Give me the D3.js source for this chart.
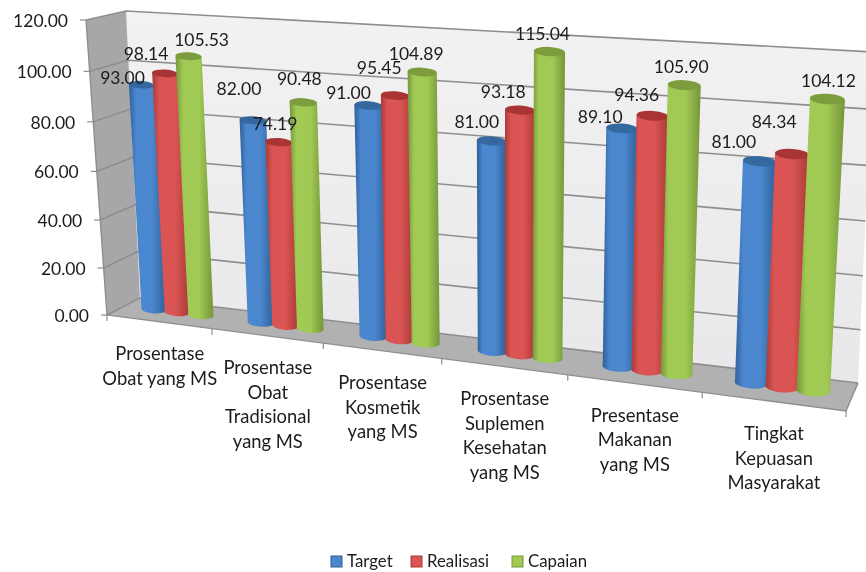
<!DOCTYPE html>
<html>
<head>
<meta charset="utf-8">
<script src="https://cdn.jsdelivr.net/npm/d3@7"></script>
<style>
  html, body { margin: 0; padding: 0; background: #fff; }
  svg { filter: blur(0.45px); }
  text { font-family: Lato, "Open Sans", sans-serif; fill: #1c1c1c; }
</style>
</head>
<body>
<svg id="chart" width="866" height="572"></svg>
<script>
let categories = [
    ["Prosentase", "Obat yang MS"],
    ["Prosentase", "Obat", "Tradisional", "yang MS"],
    ["Prosentase", "Kosmetik", "yang MS"],
    ["Prosentase", "Suplemen", "Kesehatan", "yang MS"],
    ["Presentase", "Makanan", "yang MS"],
    ["Tingkat", "Kepuasan", "Masyarakat"]
];
let seriesNames = ["Target", "Realisasi", "Capaian"];
let target = [93.00, 82.00, 91.00, 81.00, 89.10, 81.00];
let realisasi = [98.14, 74.19, 95.45, 93.18, 94.36, 84.34];
let capaian = [105.53, 90.48, 104.89, 115.04, 105.90, 104.12];
let yTicks = [0, 20, 40, 60, 80, 100, 120];

// where each data label sits relative to its bar top
let labelDx = [
    [-19, -14, -20, -15, -22, -26],
    [-19, -4, -16, -17, -16, -18],
    [13, -4, -6, -7, -3, 1]
];
let labelDy = [
    [-9, -34, -15, -21, -14, -22],
    [-22, -21, -30, -21, -23, -35],
    [-19, -26, -21, -20, -21, -20]
];

let fills = [
    { edge: "#2f5f98", mid: "#4b87ce", cap: "#35689f" },
    { edge: "#a93a38", mid: "#d95452", cap: "#a83533" },
    { edge: "#76953a", mid: "#a0ca54", cap: "#7c9c3e" }
];

// corners of the box as they land on the picture: back wall and front plane
let backWall = quad([140, 298], [858, 383], [873, 52], [126, 11]);
let frontPlane = quad([107, 315], [846, 411], [869, 57], [86, 20]);

function quad(p0, p1, p2, p3) {
    let dx1 = p1[0] - p2[0], dx2 = p3[0] - p2[0], sx = p0[0] - p1[0] + p2[0] - p3[0];
    let dy1 = p1[1] - p2[1], dy2 = p3[1] - p2[1], sy = p0[1] - p1[1] + p2[1] - p3[1];
    let den = dx1 * dy2 - dx2 * dy1;
    let g = (sx * dy2 - dx2 * sy) / den;
    let h = (dx1 * sy - sx * dy1) / den;
    let a = p1[0] - p0[0] + g * p1[0], b = p3[0] - p0[0] + h * p3[0];
    let d = p1[1] - p0[1] + g * p1[1], e = p3[1] - p0[1] + h * p3[1];
    return (u, v) => {
        let w = g * u + h * v + 1;
        return [(a * u + b * v + p0[0]) / w, (d * u + e * v + p0[1]) / w];
    };
}

// u across the categories, v up the value axis, z from back wall (0) to front (1)
let project = (u, v, z) => {
    let b = backWall(u, v), f = frontPlane(u, v);
    return [b[0] + (f[0] - b[0]) * z, b[1] + (f[1] - b[1]) * z];
};

let xScale = d3.scaleBand().domain(d3.range(categories.length)).range([0, 1]).paddingInner(0.33).paddingOuter(0.165);
let barScale = d3.scaleBand().domain(d3.range(seriesNames.length)).range([0, xScale.bandwidth()]);
let yScale = d3.scaleLinear().domain([0, 120]).range([0, 1]);

let svg = d3.select("#chart");
let line = d3.line();
let defs = svg.append("defs");

let wallGrad = defs.append("linearGradient").attr("id", "wall")
    .attr("x1", 0).attr("y1", 0).attr("x2", 0).attr("y2", 1);
wallGrad.append("stop").attr("offset", 0).attr("stop-color", "#f2f2f3");
wallGrad.append("stop").attr("offset", 1).attr("stop-color", "#e8e8ea");

fills.forEach((c, i) => {
    let g = defs.append("linearGradient").attr("id", "bar" + i);
    g.append("stop").attr("offset", 0).attr("stop-color", c.edge);
    g.append("stop").attr("offset", 0.2).attr("stop-color", c.mid);
    g.append("stop").attr("offset", 0.62).attr("stop-color", c.mid);
    g.append("stop").attr("offset", 1).attr("stop-color", c.edge);
});

let box = svg.append("g");
let poly = pts => line(pts) + "Z";

box.append("path").attr("fill", "url(#wall)")
    .attr("d", poly([project(0, 0, 0), project(1, 0, 0), project(1, 1, 0), project(0, 1, 0)]));
box.append("path").attr("fill", "#a7a7a9")
    .attr("d", poly([project(0, 0, 1), project(0, 0, 0), project(0, 1, 0), project(0, 1, 1)]));
box.append("path").attr("fill", "#b1b1b2")
    .attr("d", poly([project(0, 0, 1), project(1, 0, 1), project(1, 0, 0), project(0, 0, 0)]));

// grid lines run along the side wall, then along the back wall
box.selectAll(".grid").data(yTicks).enter().append("path")
    .attr("class", "grid")
    .attr("fill", "none")
    .attr("stroke", "#8e8e90")
    .attr("stroke-width", 1.6)
    .attr("d", t => line([project(0, yScale(t), 1), project(0, yScale(t), 0), project(1, yScale(t), 0)]));

box.append("path").attr("fill", "none").attr("stroke", "#8e8e90").attr("stroke-width", 1.4)
    .attr("d", line([project(0, 1, 1), project(0, 0, 1), project(1, 0, 1), project(1, 0, 0)]));

// value axis ticks and labels
let yAxis = svg.append("g");
yAxis.selectAll("line").data(yTicks).enter().append("line")
    .attr("x1", t => project(0, yScale(t), 1)[0] - 6)
    .attr("x2", t => project(0, yScale(t), 1)[0])
    .attr("y1", t => project(0, yScale(t), 1)[1])
    .attr("y2", t => project(0, yScale(t), 1)[1])
    .attr("stroke", "#8e8e90").attr("stroke-width", 1.2);
yAxis.selectAll("text").data(yTicks).enter().append("text")
    .attr("x", t => project(0, yScale(t), 1)[0] - 18)
    .attr("y", t => project(0, yScale(t), 1)[1] + 7)
    .attr("text-anchor", "end")
    .attr("font-size", 17.5)
    .text(t => d3.format(".2f")(t));

// category ticks on the front edge
let step = xScale.step();
svg.append("g").selectAll("line").data(d3.range(categories.length + 1)).enter().append("line")
    .attr("x1", i => project(i * step, 0, 1)[0])
    .attr("x2", i => project(i * step, 0, 1)[0])
    .attr("y1", i => project(i * step, 0, 1)[1])
    .attr("y2", i => project(i * step, 0, 1)[1] + 6)
    .attr("stroke", "#8e8e90").attr("stroke-width", 1.2);

// cylinders
let barZ = 0.45;
let seriesValues = [target, realisasi, capaian];
let bars = [];
categories.forEach((c, i) => {
    seriesValues.forEach((vals, s) => {
        bars.push({ i: i, s: s, value: vals[i] });
    });
});

let cylinder = d => {
    let r = barScale.bandwidth() / 2 * 1.06;
    let u = xScale(d.i) + barScale(d.s) + barScale.bandwidth() / 2;
    let v = yScale(d.value);
    let bl = project(u - r, 0, barZ), br = project(u + r, 0, barZ);
    let tl = project(u - r, v, barZ), tr = project(u + r, v, barZ);
    return { bl: bl, br: br, tl: tl, tr: tr,
        rxBase: (br[0] - bl[0]) / 2, rxTop: (tr[0] - tl[0]) / 2,
        tilt: Math.atan2(tr[1] - tl[1], tr[0] - tl[0]) * 180 / Math.PI,
        top: [(tl[0] + tr[0]) / 2, (tl[1] + tr[1]) / 2] };
};

let barGroups = svg.append("g").selectAll("g").data(bars).enter().append("g");
barGroups.append("path")
    .attr("fill", d => "url(#bar" + d.s + ")")
    .attr("d", d => {
        let c = cylinder(d);
        return "M" + c.bl + "L" + c.tl + "L" + c.tr + "L" + c.br +
            "A" + c.rxBase + " " + (c.rxBase * 0.33) + " " + c.tilt + " 0 1 " + c.bl + "Z";
    });
barGroups.append("ellipse")
    .attr("fill", d => fills[d.s].cap)
    .attr("rx", d => cylinder(d).rxTop)
    .attr("ry", d => cylinder(d).rxTop * 0.3)
    .attr("transform", d => {
        let c = cylinder(d);
        return "translate(" + c.top + ") rotate(" + c.tilt + ")";
    });

// data labels
svg.append("g").selectAll("text").data(bars).enter().append("text")
    .attr("x", d => cylinder(d).top[0] + labelDx[d.s][d.i])
    .attr("y", d => cylinder(d).top[1] + labelDy[d.s][d.i] + 8.5)
    .attr("text-anchor", "middle")
    .attr("font-size", 17.5)
    .text(d => d3.format(".2f")(d.value));

// category labels, stepped down along the sloping front edge
let catGroups = svg.append("g").selectAll("g").data(categories).enter().append("g")
    .attr("transform", (c, i) => {
        let p = project(xScale(i) + xScale.bandwidth() / 2, 0, 1);
        return "translate(" + (p[0] + 1) + "," + p[1] + ")";
    });
catGroups.selectAll("text").data(c => c).enter().append("text")
    .attr("text-anchor", "middle")
    .attr("y", (l, j) => 38.5 + j * 24.5)
    .attr("font-size", 18.4)
    .text(l => l);

// legend
let legendX = [331, 411, 512];
let legend = svg.append("g").selectAll("g").data(seriesNames).enter().append("g")
    .attr("transform", (n, i) => "translate(" + legendX[i] + ",556)");
legend.append("rect")
    .attr("width", 11).attr("height", 11)
    .attr("fill", (n, i) => fills[i].mid)
    .attr("stroke", (n, i) => fills[i].edge);
legend.append("text")
    .attr("x", 16).attr("y", 11)
    .attr("font-size", 16.8)
    .text(n => n);
</script>
</body>
</html>
